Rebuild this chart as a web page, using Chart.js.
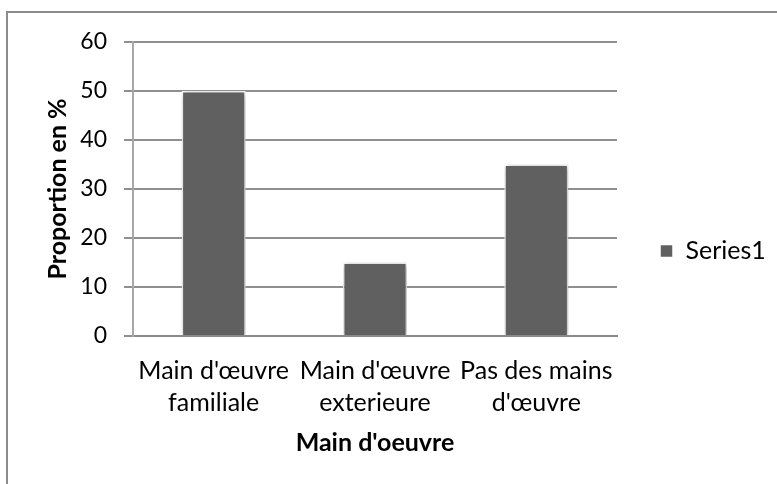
<!DOCTYPE html>
<html>
<head>
<meta charset="utf-8">
<script src="https://cdn.jsdelivr.net/npm/chart.js@4/dist/chart.umd.min.js"></script>
<style>
  html, body { margin: 0; padding: 0; background: #fff; }
  #wrap { width: 777px; height: 484px; }
</style>
</head>
<body>
<div id="wrap"><canvas id="mainChart"></canvas></div>
<script>
let categories = [["Main d'œuvre", 'familiale'], ["Main d'œuvre", 'exterieure'], ['Pas des mains', "d'œuvre"]];
let series1 = [50, 15, 35];
let yTicks = [0, 10, 20, 30, 40, 50, 60];

let fontName = 'Lato, "Open Sans", sans-serif';
let labelSize = 25;
let legendPad = 43;

// legend width is box + half font + text + padding + 10, so work out the right padding
// that puts the plot's right edge at x=617
let mctx = document.createElement('canvas').getContext('2d');
mctx.font = labelSize + 'px ' + fontName;
let legendW = 10 + legendPad + 13 + labelSize / 2 + mctx.measureText('Series1').width;
let rightPad = Math.max(0, 777 - 617 - legendW);

// outer frame (only left and top edges are inside the picture)
let framePlugin = {
  id: 'frame',
  beforeDraw(chart) {
    let ctx = chart.ctx;
    ctx.save();
    ctx.strokeStyle = '#8c8c8c';
    ctx.lineWidth = 2;
    ctx.beginPath();
    ctx.moveTo(7, 484);
    ctx.lineTo(7, 12);
    ctx.lineTo(777, 12);
    ctx.stroke();
    ctx.restore();
  },
};

// soft shadow behind the bars
let shadowPlugin = {
  id: 'barShadow',
  beforeDatasetsDraw(chart) {
    let ctx = chart.ctx;
    ctx.save();
    ctx.shadowColor = 'rgba(0, 0, 0, 0.35)';
    ctx.shadowBlur = 6;
    ctx.shadowOffsetX = 1;
    ctx.shadowOffsetY = 1;
  },
  afterDatasetsDraw(chart) {
    chart.ctx.restore();
  },
};

let mainChart = new Chart(document.getElementById('mainChart'), {
  type: 'bar',
  data: {
    labels: categories,
    datasets: [
      {
        label: 'Series1',
        data: series1,
        backgroundColor: '#606060',
        borderColor: '#ffffff',
        borderWidth: 1.5,
        categoryPercentage: 1,
        barPercentage: 0.397,
      },
    ],
  },
  options: {
    responsive: true,
    maintainAspectRatio: false,
    animation: false,
    layout: {
      padding: { top: 42, left: 0, right: rightPad, bottom: 24 },
    },
    plugins: {
      tooltip: { enabled: false },
      legend: {
        position: 'right',
        align: 'center',
        labels: {
          boxWidth: 13,
          boxHeight: 13,
          padding: legendPad,
          color: '#000',
          font: { family: fontName, size: labelSize },
        },
      },
    },
    scales: {
      x: {
        grid: { display: false, drawTicks: false },
        border: { display: true, color: '#8a8a8a', width: 2 },
        ticks: {
          color: '#000',
          padding: 19,
          maxRotation: 0,
          font: { family: fontName, size: labelSize, lineHeight: 1.28 },
        },
        title: {
          display: true,
          text: "Main d'oeuvre",
          color: '#000',
          padding: { top: 0, bottom: 2 },
          font: { family: fontName, size: 25, weight: 'bold', lineHeight: 1.2 },
        },
        afterFit(scale) {
          scale.height = 124;
        },
      },
      y: {
        min: 0,
        max: 60,
        afterBuildTicks(scale) {
          scale.ticks = yTicks.map((v) => ({ value: v }));
        },
        grid: { color: '#8f8f8f', lineWidth: 2, tickLength: 9 },
        border: { display: true, color: '#a8a8a8', width: 2 },
        ticks: {
          color: '#000',
          padding: 17,
          font: { family: fontName, size: 23 },
        },
        title: {
          display: true,
          text: 'Proportion en %',
          color: '#000',
          padding: { top: 43, bottom: 0 },
          font: { family: fontName, size: 25, weight: 'bold', lineHeight: 1.2 },
        },
        afterFit(scale) {
          scale.width = 133;
        },
      },
    },
  },
  plugins: [framePlugin, shadowPlugin],
});
</script>
</body>
</html>
